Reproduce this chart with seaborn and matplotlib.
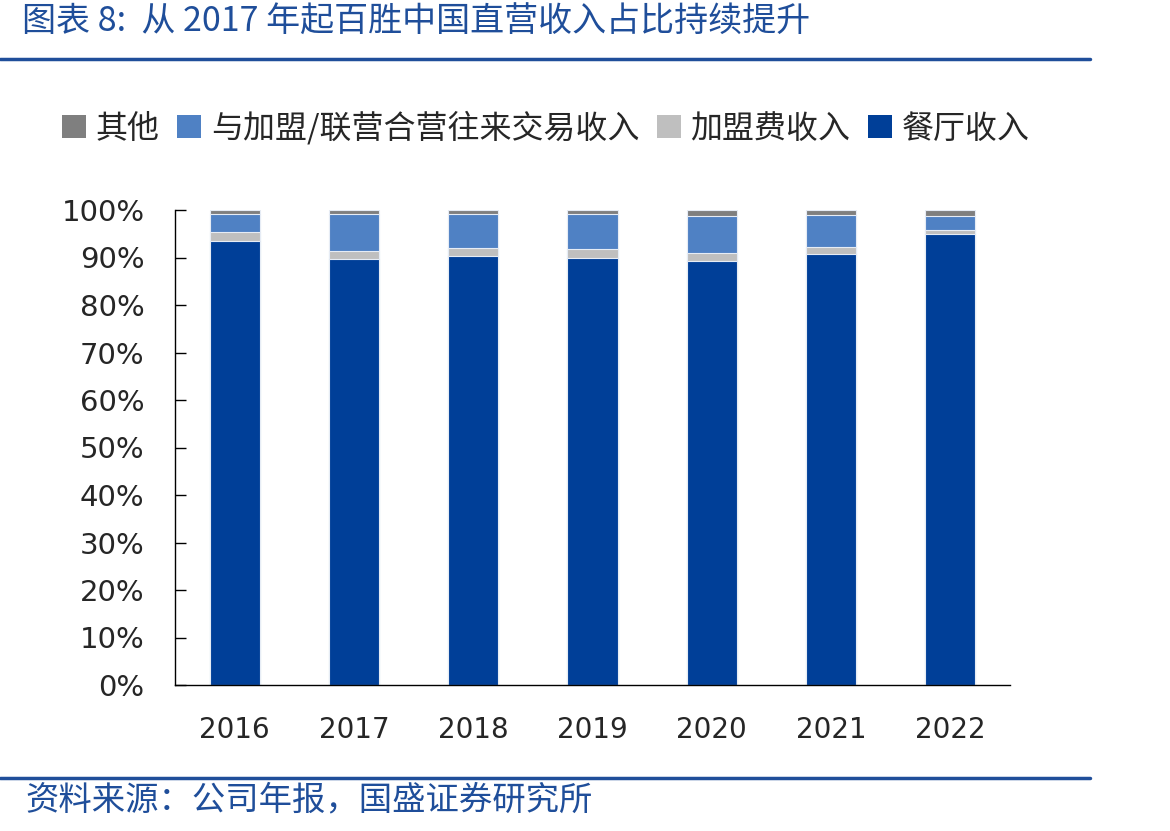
import numpy as np
import pandas as pd
import matplotlib
matplotlib.use("Agg")
import matplotlib.pyplot as plt
import seaborn as sns
from matplotlib.lines import Line2D
from matplotlib.patches import Patch

# data (share of revenue, %)
years = ["2016", "2017", "2018", "2019", "2020", "2021", "2022"]
restaurant = [93.4, 89.7, 90.3, 89.9, 89.2, 90.7, 95.0]   # 餐厅收入
franchise_fee = [1.9, 1.7, 1.7, 1.9, 1.7, 1.5, 0.8]       # 加盟费收入
related_trade = [3.9, 7.8, 7.2, 7.4, 7.8, 6.8, 2.9]       # 与加盟/联营合营往来交易收入
other = [0.8, 0.8, 0.8, 0.8, 1.3, 1.0, 1.3]               # 其他

series_names = ["其他", "与加盟/联营合营往来交易收入", "加盟费收入", "餐厅收入"]
colors = {"其他": "#7F7F7F", "与加盟/联营合营往来交易收入": "#4F81C4",
          "加盟费收入": "#BFBFBF", "餐厅收入": "#003F98"}

sns.set_theme(style="white")
plt.rcParams['font.family'] = ['Noto Sans CJK SC', 'DejaVu Sans']

df = pd.DataFrame({"year": years, "餐厅收入": restaurant, "加盟费收入": franchise_fee,
                   "与加盟/联营合营往来交易收入": related_trade, "其他": other})

fig = plt.figure(figsize=(11.7, 8.31), dpi=100)
ax = fig.add_axes([175 / 1170, 1 - 685 / 831, 835 / 1170, 475 / 831])

# stacked bars: draw cumulative totals from the top layer down
layers = ["餐厅收入", "加盟费收入", "与加盟/联营合营往来交易收入", "其他"]
cum = df[layers].cumsum(axis=1)
total = cum.iloc[:, -1]
cum = cum.div(total, axis=0) * 100
for name in layers[::-1]:
    sns.barplot(x=df["year"], y=cum[name], color=colors[name], width=0.42,
                saturation=1, edgecolor="#E6ECF5", linewidth=0.8, ax=ax)

ax.set_xlim(-0.5, 6.5)
ax.set_ylim(0, 100)
ax.set_yticks(np.arange(0, 101, 10))
ax.set_yticklabels([f"{v}%" for v in range(0, 101, 10)], family="DejaVu Sans", fontsize=21)
ax.set_xticks(range(len(years)))
ax.set_xticklabels(years, family="DejaVu Sans", fontsize=20)
ax.set_xticks(np.arange(0.5, 7, 1), minor=True)
ax.tick_params(axis="x", which="major", length=0, pad=22)
ax.tick_params(axis="x", which="minor", direction="in", length=8, width=1, color="black")
ax.tick_params(axis="y", direction="in", length=8, width=1, color="black", left=True, pad=22)
ax.set_xlabel("")
ax.set_ylabel("")
for s in ["top", "right"]:
    ax.spines[s].set_visible(False)
for s in ["left", "bottom"]:
    ax.spines[s].set_color("black")
    ax.spines[s].set_linewidth(1)

handles = [Patch(facecolor=colors[n], edgecolor="none") for n in series_names]
fig.legend(handles, series_names, loc="center", bbox_to_anchor=(546 / 1170, 1 - 128 / 831),
           ncol=4, frameon=False, fontsize=23, handlelength=0.75, handleheight=0.75,
           handletextpad=0.3, columnspacing=0.55)

# title, rules and source note
blue = "#1F4E9A"
fig.text(22 / 1170, 1 - 22 / 831, "图表 8:  从 2017 年起百胜中国直营收入占比持续提升",
         color=blue, fontsize=24.5, style="italic", va="center", ha="left")
fig.add_artist(Line2D([0, 1090 / 1170], [1 - 59 / 831] * 2, color=blue, linewidth=2.5))
fig.add_artist(Line2D([0, 1090 / 1170], [1 - 778 / 831] * 2, color=blue, linewidth=2.5))
fig.text(25 / 1170, 1 - 800 / 831, "资料来源：公司年报，国盛证券研究所",
         color=blue, fontsize=24, style="italic", va="center", ha="left")

fig.savefig("out.png", dpi=100)
